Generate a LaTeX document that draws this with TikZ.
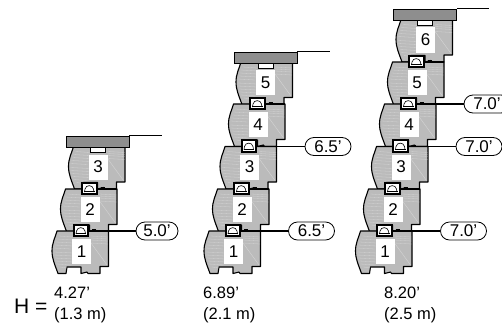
\documentclass[tikz,border=0pt]{standalone}
\usepackage{fontspec}
\setmainfont{Liberation Sans}
\usetikzlibrary{shapes.misc}
\definecolor{blockgray}{HTML}{BBBBBB}
\definecolor{capgray}{HTML}{8E8E8E}
\definecolor{streak}{HTML}{D4D4D4}
\tikzset{x=1pt,y=-1pt,
  outline/.style={draw=black,line width=1.1pt,line join=round},
  numlabel/.style={fill=white,minimum width=19pt,minimum height=25pt,inner sep=0pt,font=\fontsize{17}{17}\selectfont},
  tieoval/.style={draw=black,line width=0.8pt,rounded rectangle,fill=white,minimum width=46pt,minimum height=18pt,inner sep=0pt,font=\fontsize{17}{17}\selectfont},
  tieline/.style={draw=black,line width=1.3pt},
  capbar/.style={draw=black,fill=capgray,line width=0.8pt,minimum width=63pt,minimum height=11pt,inner sep=0pt},
  hlabel/.style={anchor=north west,inner sep=0pt,align=left,font=\fontsize{16.5}{21}\selectfont}}
\newcommand{\wallblock}[4]{%
 \begin{scope}[shift={(#1,#2)}]
  \path[fill=blockgray,outline] (-24,-20) -- (27.5,-20) -- (27.5,15.5) -- (19,15.5) -- (19,22.5)
     -- (7,22.5) -- (6,21) -- (0,22.5) -- (0,16) -- (-14,16) -- (-15,22.5) -- (-23,22.5)
     .. controls (-26,14) and (-29,8) .. (-29,0) .. controls (-29,-8) and (-26,-13) .. (-24,-20) -- cycle;
  \foreach \yy/\xa/\xb in {-15/-22/-8,-12/-24/-8,-9/-25/-8,-6/-26/-8,-3/-27/-10,1/-27/-8,4/-27/-8,7/-26/-8,10/-25/-8,13/-24/-10,16/-21/-14,-15/10/27,-13/10/27,-11/10/27,-8/10/27}
    \draw[streak,line width=0.3pt] (\xa,\yy) -- (\xb,\yy+1);
  \draw[streak,line width=0.4pt] (10,-8) -- (26,14);
  \node[numlabel] (#3) at (0.5,0.5) {#4};
 \end{scope}}
\newcommand{\shearkey}[2]{%
 \begin{scope}[shift={(#1,#2)}]
  \draw[line width=1.5pt] (7,-20) -- (27.5,-20);
  \draw[fill=white,draw=black,line width=2pt] (-7.5,-26.5) rectangle (7,-15);
  \draw[line width=0.6pt] (-5,-17) -- (-4.5,-20) .. controls (-3.5,-24.5) and (3,-24.5) .. (4,-20) -- (4.5,-17);
  \draw[line width=1pt] (-5.5,-17.2) -- (5,-17.2);
  \draw[line width=1.6pt] (11,-20.8) -- (15,-20.8);
 \end{scope}}
\begin{document}
\begin{tikzpicture}
\useasboundingbox (0,0) rectangle (502,329);
\fill[white] (0,0) rectangle (502,329);
% stack A
\wallblock{97.5}{166.5}{a3}{3}
\wallblock{89.5}{209}{a2}{2}
\wallblock{81}{251}{a1}{1}
\shearkey{89.5}{209}
\shearkey{81}{251}
\draw[fill=white,line width=0.8pt] (90,147) rectangle (105,152);
\node[capbar] (acap) at (97.5,141.5) {};
\coordinate (aend) at (162,136);
\draw[line width=0.8pt] (acap.north east) -- (aend |- acap.north east);
\coordinate (a1t) at (108.5,231);
\node[tieoval,minimum width=42pt] (ao1) at (157,231) {5.0'};
\draw[tieline] (a1t) -- (ao1);
% stack B
\wallblock{265}{82}{b5}{5}
\wallblock{257.5}{124}{b4}{4}
\wallblock{249}{166.5}{b3}{3}
\wallblock{241.5}{209}{b2}{2}
\wallblock{233}{251}{b1}{1}
\shearkey{257.5}{124}
\shearkey{249}{166.5}
\shearkey{241.5}{209}
\shearkey{233}{251}
\draw[fill=white,line width=0.8pt] (258,63) rectangle (273,68);
\node[capbar] (bcap) at (265.5,57.5) {};
\coordinate (bend) at (330,52);
\draw[line width=0.8pt] (bcap.north east) -- (bend |- bcap.north east);
\coordinate (b1t) at (260.5,231);
\coordinate (b3t) at (276.5,146.5);
\node[tieoval] (bo1) at (311.5,231) {6.5'};
\node[tieoval] (bo3) at (328,146.5) {6.5'};
\draw[tieline] (b1t) -- (bo1);
\draw[tieline] (b3t) -- (bo3);
% stack C
\wallblock{425}{39.5}{c6}{6}
\wallblock{416.5}{82}{c5}{5}
\wallblock{408.5}{124}{c4}{4}
\wallblock{400.5}{166.5}{c3}{3}
\wallblock{392.5}{209}{c2}{2}
\wallblock{384.5}{251}{c1}{1}
\shearkey{416.5}{82}
\shearkey{408.5}{124}
\shearkey{400.5}{166.5}
\shearkey{392.5}{209}
\shearkey{384.5}{251}
\draw[fill=white,line width=0.8pt] (417,20) rectangle (432,25);
\node[capbar] (ccap) at (425,14.5) {};
\coordinate (cend) at (489,9);
\draw[line width=0.8pt] (ccap.north east) -- (cend |- ccap.north east);
\coordinate (c1t) at (412,231);
\coordinate (c3t) at (428,146.5);
\coordinate (c4t) at (436,104);
\node[tieoval] (co1) at (463.5,231) {7.0'};
\node[tieoval] (co3) at (479,146.5) {7.0'};
\node[tieoval] (co4) at (487,104) {7.0'};
\draw[tieline] (c1t) -- (co1);
\draw[tieline] (c3t) -- (co3);
\draw[tieline] (c4t) -- (co4);
% heights
\node[anchor=base west,inner sep=0pt,font=\fontsize{21}{22}\selectfont] (hh) at (14,313) {H =};
\node[hlabel] (h1) at (54,287) {4.27'\\(1.3 m)};
\node[hlabel] (h2) at (203,287) {6.89'\\(2.1 m)};
\node[hlabel] (h3) at (384,287) {8.20'\\(2.5 m)};
\end{tikzpicture}
\end{document}
